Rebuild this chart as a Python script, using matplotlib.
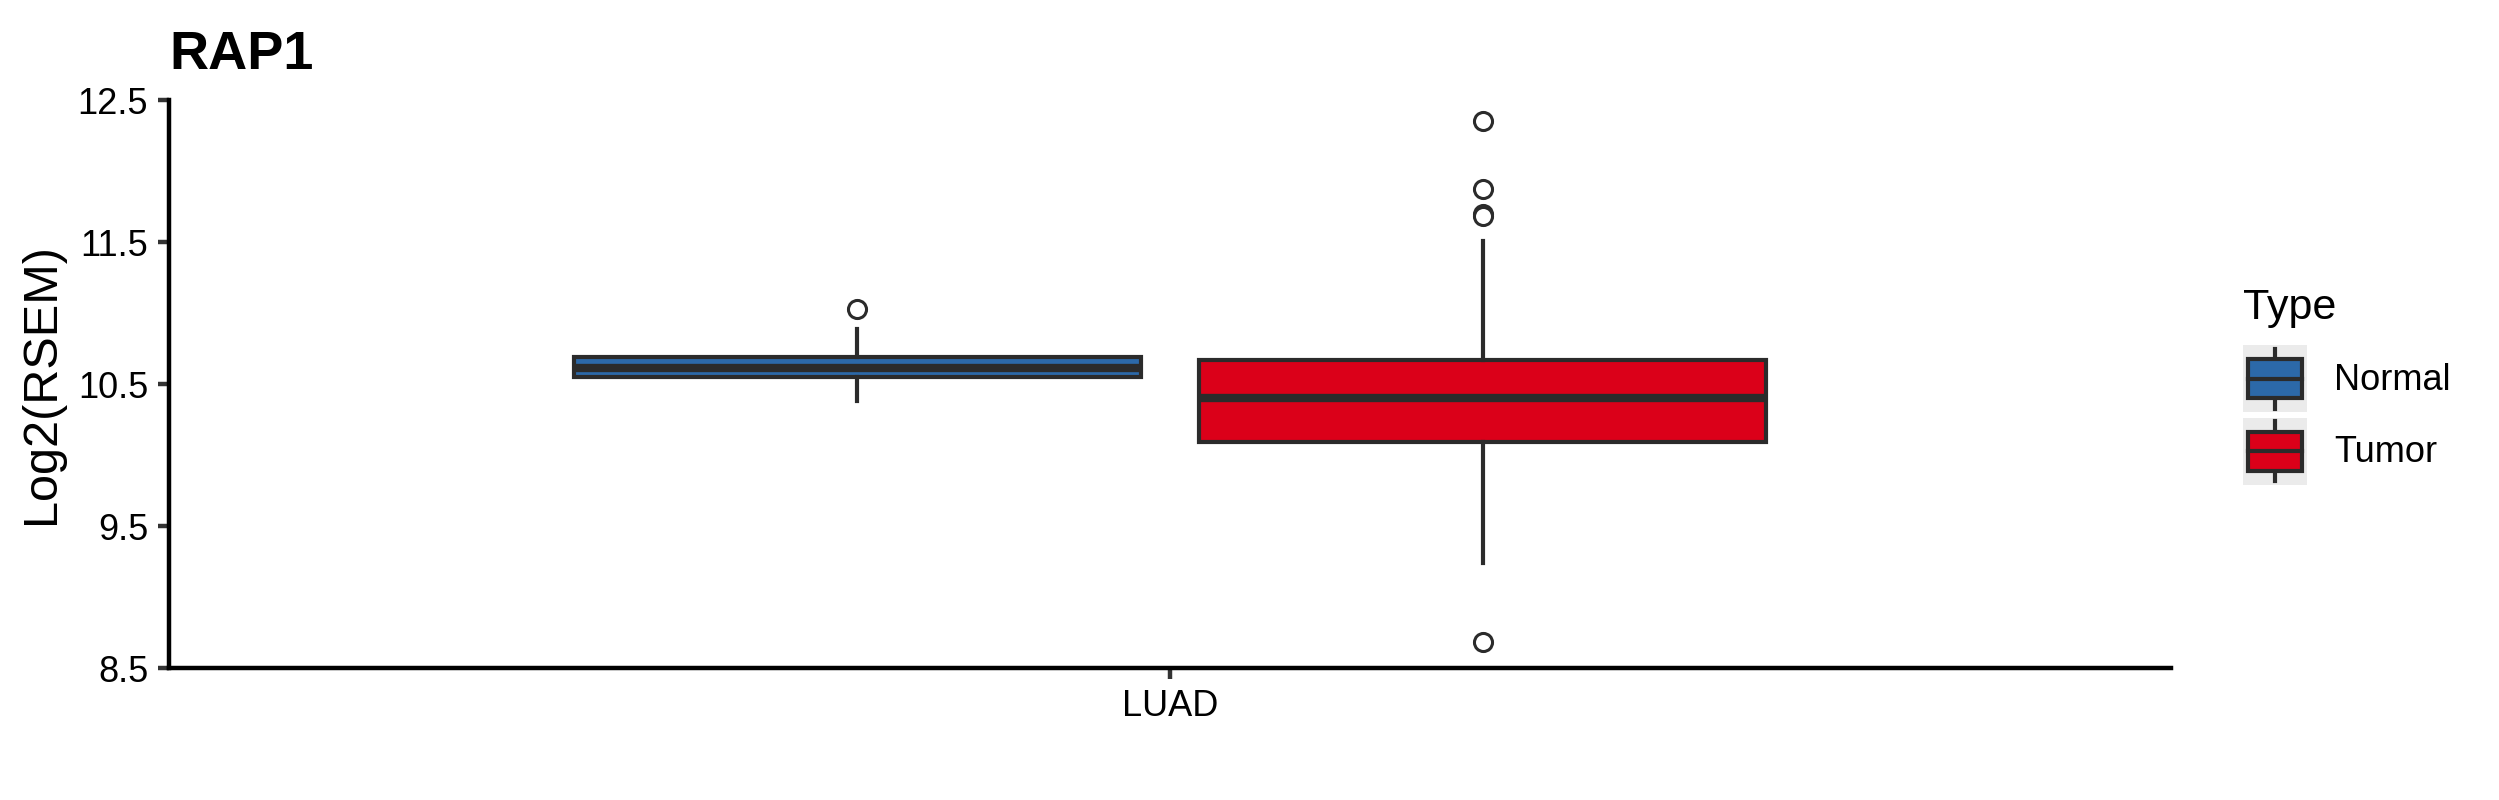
import matplotlib
matplotlib.use("Agg")
import matplotlib.pyplot as plt
from matplotlib.patches import Rectangle
from matplotlib.lines import Line2D
from matplotlib.legend_handler import HandlerBase

plt.rcParams['font.family'] = ['Liberation Sans', 'DejaVu Sans']

# Box statistics (Log2 RSEM)
groups = ["Normal", "Tumor"]
colors = ["#2C69A9", "#DB0019"]
q1 = [10.55, 10.09]
medians = [10.61, 10.40]
q3 = [10.69, 10.67]
whisker_low = [10.38, 9.24]
whisker_high = [10.89, 11.51]
outliers = [[11.03], [12.35, 11.87, 11.70, 11.68, 8.68]]
category = "LUAD"
y_ticks = [8.5, 9.5, 10.5, 11.5, 12.5]

edge = "#2B2B2B"
offsets = [-0.1875, 0.1875]


class BoxKey(HandlerBase):
    # ggplot-like legend key: grey square with a small boxplot on it
    def create_artists(self, legend, orig_handle, xdescent, ydescent,
                       width, height, fontsize, trans):
        x0, y0 = -xdescent, -ydescent
        bg = Rectangle((x0, y0), width, height, facecolor="#EBEBEB",
                       edgecolor="none", transform=trans)
        bw, bh = width * 0.85, height * 0.58
        bx, by = x0 + (width - bw) / 2, y0 + (height - bh) / 2
        cx = x0 + width / 2
        lo = Line2D([cx, cx], [y0 + height * 0.05, by], color=edge, lw=3, transform=trans)
        hi = Line2D([cx, cx], [by + bh, y0 + height * 0.95], color=edge, lw=3, transform=trans)
        box = Rectangle((bx, by), bw, bh, facecolor=orig_handle.get_facecolor(),
                        edgecolor=edge, lw=3, transform=trans)
        med = Line2D([bx, bx + bw], [by + bh / 2] * 2, color=edge, lw=3, transform=trans)
        return [bg, lo, hi, box, med]


fig = plt.figure(figsize=(24.99, 8), dpi=100)
ax = fig.add_axes([169 / 2499, 1 - 668 / 800, (2171 - 169) / 2499, (668 - 100) / 800])

handles = []
for i in range(len(groups)):
    stats = dict(q1=q1[i], med=medians[i], q3=q3[i], whislo=whisker_low[i],
                 whishi=whisker_high[i], fliers=outliers[i], label=groups[i])
    bp = ax.bxp([stats], positions=[1 + offsets[i]], widths=0.34, patch_artist=True,
                showcaps=False,
                boxprops=dict(facecolor=colors[i], edgecolor=edge, linewidth=3),
                medianprops=dict(color=edge, linewidth=6, solid_capstyle='butt'),
                whiskerprops=dict(color=edge, linewidth=3),
                flierprops=dict(marker='o', markerfacecolor='white', markeredgecolor=edge,
                                markersize=13, markeredgewidth=2.2))
    handles.append(bp["boxes"][0])

ax.set_xlim(0.4, 1.6)
ax.set_ylim(8.5, 12.5)
ax.set_xticks([1])
ax.set_xticklabels([category])
ax.set_yticks(y_ticks)
ax.set_yticklabels([str(t) for t in y_ticks])

for s in ["top", "right"]:
    ax.spines[s].set_visible(False)
for s in ["left", "bottom"]:
    ax.spines[s].set_linewidth(3.2)
    ax.spines[s].set_color("black")
ax.tick_params(axis="both", colors="#333333", width=3.2, length=8, labelsize=26,
               labelcolor="black", pad=7)

ax.set_ylabel("Log2(RSEM)", fontsize=35, labelpad=10)
ax.set_title("RAP1", loc="left", fontweight="bold", fontsize=39, pad=22)

leg = fig.legend(handles, groups, title="Type", loc="upper left",
                 bbox_to_anchor=(2243 / 2499, 0.64), frameon=False,
                 fontsize=26, title_fontsize=31,
                 handler_map={h: BoxKey() for h in handles},
                 handlelength=1.78, handleheight=2.46, labelspacing=0.17,
                 handletextpad=0.75, borderpad=0, borderaxespad=0, alignment="left")
# a bit more room between the legend title and the keys
leg._legend_box.sep += 8

fig.savefig("out.png", dpi=100)
